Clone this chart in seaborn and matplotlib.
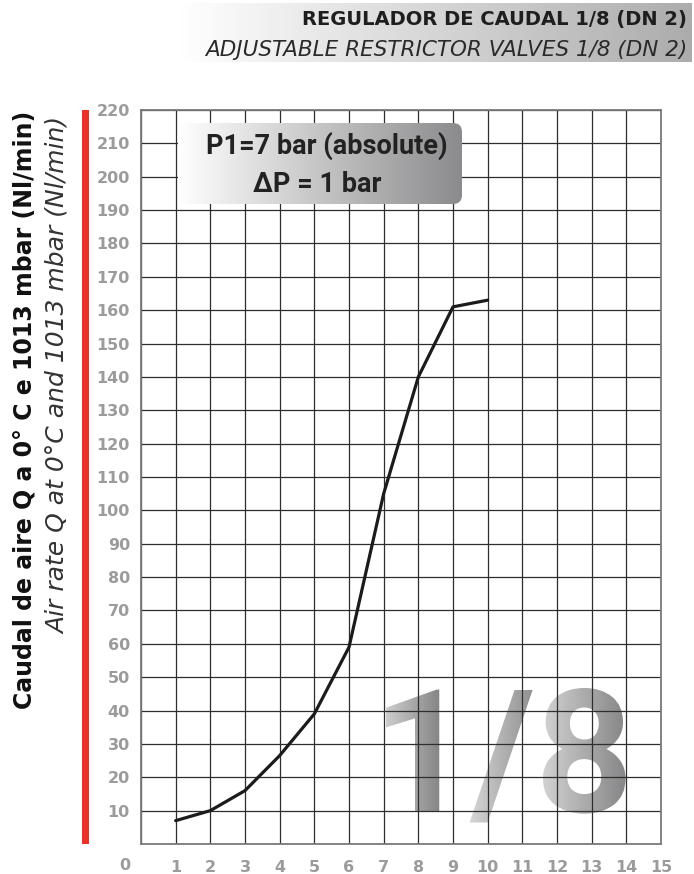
import numpy as np
import pandas as pd
import matplotlib
matplotlib.use("Agg")
import matplotlib.pyplot as plt
import seaborn as sns
from matplotlib.colors import LinearSegmentedColormap
from matplotlib.patches import FancyBboxPatch, PathPatch, Rectangle
from matplotlib.textpath import TextPath
from matplotlib.font_manager import FontProperties, findfont
from matplotlib.transforms import Affine2D

# ---- data -------------------------------------------------------------
turns = [1, 2, 3, 4, 5, 6, 7, 8, 9, 10]
flow_nl_min = [7, 10, 16, 26.5, 39, 59, 105, 140, 161, 163]
x_ticks = list(range(0, 16))
y_ticks = list(range(0, 230, 10))

title_es = "REGULADOR DE CAUDAL 1/8 (DN 2)"
title_en = "ADJUSTABLE RESTRICTOR VALVES 1/8 (DN 2)"
ylabel_es = "Caudal de aire Q a 0° C e 1013 mbar (Nl/min)"
ylabel_en = "Air rate Q at 0°C and 1013 mbar (Nl/min)"
box_lines = ["P1=7 bar (absolute)", "ΔP = 1 bar"]
size_badge = "1/8"

# ---- style ------------------------------------------------------------
sns.set_theme(style="white")
plt.rcParams["font.family"] = ["DejaVu Sans"]

W, H = 694, 874
fig = plt.figure(figsize=(W / 100, H / 100), dpi=100)
fig.patch.set_facecolor("white")

TICK_GREY = "#9b9b9b"
heavy = FontProperties(fname=findfont(FontProperties(family="Roboto", weight="bold")))


def pixel_axes(z):
    a = fig.add_axes([0, 0, 1, 1], zorder=z)
    a.set_xlim(0, W)
    a.set_ylim(H, 0)
    a.axis("off")
    a.patch.set_alpha(0)
    return a


def gradient(axp, x0, x1, y0, y1, c0, c1, clip=None, zorder=1):
    cmap = LinearSegmentedColormap.from_list("g", [c0, c1])
    img = np.linspace(0, 1, 256).reshape(1, -1)
    im = axp.imshow(img, cmap=cmap, extent=(x0, x1, y1, y0), aspect="auto",
                    interpolation="bilinear", zorder=zorder)
    if clip is not None:
        im.set_clip_path(clip)
    axp.set_xlim(0, W)
    axp.set_ylim(H, 0)
    return im


# ---- background layer (below the grid) ---------------------------------
under = pixel_axes(0)

# title band
gradient(under, 180, 692, 3, 62, "#ffffff", "#acacac")
under.text(687, 19, title_es, ha="right", va="center", fontsize=14,
           fontweight="bold", color="#1e1e1e")
under.text(687, 50, title_en, ha="right", va="center", fontsize=15.5,
           style="italic", color="#2a2a2a")

# red rule and axis titles
under.add_patch(Rectangle((82, 110), 7, 734, facecolor="#ee3026",
                          edgecolor="none"))
under.text(25, 410, ylabel_es, rotation=90, ha="center", va="center",
           fontsize=17, fontweight="bold", color="#111111")
under.text(58, 375, ylabel_en, rotation=90, ha="center", va="center",
           fontsize=18, style="italic", color="#333333")
under.text(130, 866, "0", ha="right", va="center", fontsize=11.5,
           fontweight="bold", color=TICK_GREY)

# large size badge, each glyph shaded light-to-dark from left to right
badge_size = 172
x_start, baseline = 372, 812
glyph_shades = [("#cdcdcd", "#858585"), ("#d6d6d6", "#8f8f8f"), ("#d2d2d2", "#868688")]
for i, ch in enumerate(size_badge):
    path = TextPath((0, 0), ch, size=badge_size, prop=heavy)
    upto = TextPath((0, 0), size_badge[: i + 1], size=badge_size, prop=heavy)
    shift = upto.get_extents().x1 - path.get_extents().x1
    ext = path.get_extents()
    tr = Affine2D().scale(1, -1).translate(x_start + shift, baseline) + under.transData
    patch = PathPatch(path, transform=tr, facecolor="none", edgecolor="none")
    c0, c1 = glyph_shades[i]
    gradient(under, x_start + shift + ext.x0, x_start + shift + ext.x1,
             baseline - ext.y1, baseline - ext.y0, c0, c1, clip=patch, zorder=2)

# ---- chart ------------------------------------------------------------
ax = fig.add_axes([141 / W, 1 - 844 / H, 520 / W, 734 / H], zorder=1)
ax.set_facecolor("none")
df = pd.DataFrame({"turns": turns, "flow": flow_nl_min})
sns.lineplot(data=df, x="turns", y="flow", ax=ax, color="#1b1b1b",
             linewidth=2.3, zorder=4)
ax.set_xlim(0, 15)
ax.set_ylim(0, 220)
ax.set_xticks(x_ticks)
ax.set_yticks(y_ticks)
ax.set_xticklabels([""] + [str(v) for v in x_ticks[1:]])
ax.set_yticklabels([""] + [str(v) for v in y_ticks[1:]])
ax.grid(True, color="#2e2e2e", linewidth=0.9)
ax.tick_params(axis="both", length=0, labelsize=11.5, labelcolor=TICK_GREY)
ax.tick_params(axis="y", pad=8)
ax.tick_params(axis="x", pad=11.5)
for lab in ax.get_xticklabels() + ax.get_yticklabels():
    lab.set_fontweight("bold")
for s in ax.spines.values():
    s.set_color("#7a7a7a")
    s.set_linewidth(1.3)
ax.set_xlabel("")
ax.set_ylabel("")

# ---- condition box (above the grid) -----------------------------------
over = pixel_axes(2)
box = FancyBboxPatch((178, 123), 284, 81,
                     boxstyle="round,pad=0,rounding_size=9",
                     facecolor="none", edgecolor="none",
                     transform=over.transData)
over.add_patch(box)
gradient(over, 178, 462, 123, 204, "#ffffff", "#8b8b8d", clip=box, zorder=1)
over.text(327, 146, box_lines[0], ha="center", va="center", fontsize=19.5,
          fontproperties=heavy, color="#222222", zorder=3)
over.text(317, 184, box_lines[1], ha="center", va="center", fontsize=19.5,
          fontproperties=heavy, color="#222222", zorder=3)

fig.savefig("out.png", dpi=100)
